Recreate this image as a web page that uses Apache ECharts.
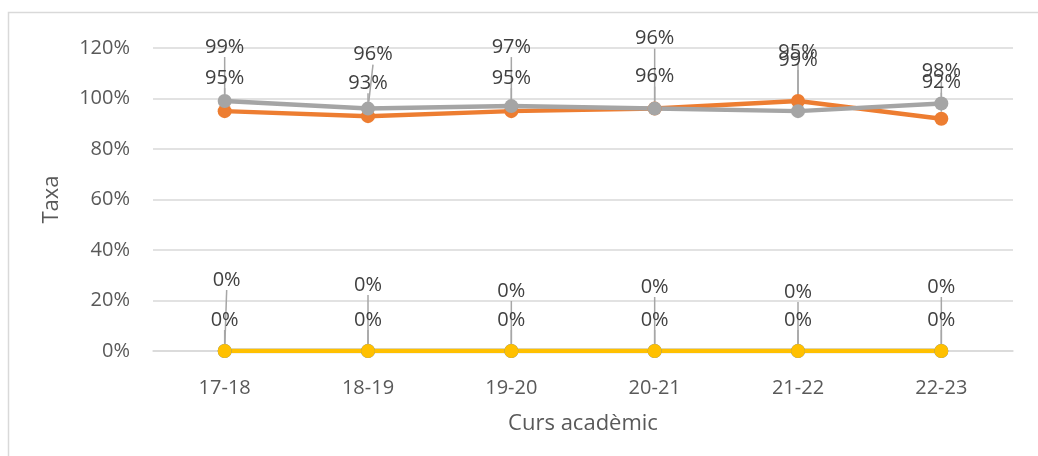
<!DOCTYPE html>
<html>
<head>
<meta charset="utf-8">
<script src="https://cdn.jsdelivr.net/npm/echarts@6/dist/echarts.min.js"></script>
<style>
html,body{margin:0;padding:0;background:#fff;}
#chart{width:1038px;height:456px;}
</style>
</head>
<body>
<div id="chart"></div>
<script>
// ---- data ----
const categories = ['17-18', '18-19', '19-20', '20-21', '21-22', '22-23'];
const seriesBlue = [0, 0, 0, 0, 0, 0];
const seriesOrange = [95, 93, 95, 96, 99, 92];
const seriesGray = [99, 96, 97, 96, 95, 98];
const seriesYellow = [0, 0, 0, 0, 0, 0];
const yTicks = [0, 20, 40, 60, 80, 100, 120];
const xTitle = 'Curs acadèmic';
const yTitle = 'Taxa';

// ---- label placement (vertical offsets in px, layout only) ----
const labelDy = {
  blue:   [-71, -66, -60, -64, -59, -64],
  orange: [-33, -33, -33, -32, -41, -36],
  gray:   [-54, -54, -59, -70, -59, -32],
  yellow: [-31, -31, -31, -31, -31, -31]
};
const labelDx = {
  blue:   [2, 0, 0, 0, 0, 0],
  orange: [0, 0, 0, 0, 0, 0],
  gray:   [0, 5, 0, 0, 0, 0],
  yellow: [0, 0, 0, 0, 0, 0]
};

const FONT = "'Open Sans', 'Noto Sans', sans-serif";

function mk(name, key, data, color) {
  return {
    name: name,
    type: 'line',
    data: data,
    symbol: 'circle',
    symbolSize: 14,
    lineStyle: { width: 4.5, color: color },
    itemStyle: { color: color },
    label: {
      show: true,
      position: 'inside',
      formatter: p => p.value + '%',
      color: '#404040',
      fontFamily: FONT,
      fontSize: 20
    },
    labelLine: { show: true, lineStyle: { color: '#a6a6a6', width: 1.5 } },
    labelLayout: function (p) {
      return { dx: labelDx[key][p.dataIndex], dy: labelDy[key][p.dataIndex] };
    },
    emphasis: { disabled: true },
    animation: false
  };
}

const chart = echarts.init(document.getElementById('chart'), null, { renderer: 'canvas' });
chart.setOption({
  backgroundColor: '#ffffff',
  animation: false,
  graphic: [{
    type: 'rect',
    shape: { x: 8.5, y: 12.5, width: 1040, height: 460 },
    style: { fill: 'none', stroke: '#d9d9d9', lineWidth: 1.5 },
    silent: true
  }],
  grid: { left: 153, right: 25, top: 48, bottom: 105, containLabel: false },
  xAxis: {
    type: 'category',
    data: categories,
    boundaryGap: true,
    axisLine: { show: true, lineStyle: { color: '#d9d9d9', width: 1.5 } },
    axisTick: { show: false },
    axisLabel: { color: '#595959', fontFamily: FONT, fontSize: 20, margin: 27 },
    name: xTitle,
    nameLocation: 'middle',
    nameGap: 62,
    nameTextStyle: { color: '#595959', fontFamily: FONT, fontSize: 22 }
  },
  yAxis: {
    type: 'value',
    min: yTicks[0],
    max: yTicks[yTicks.length - 1],
    interval: yTicks[1] - yTicks[0],
    axisLine: { show: false },
    axisTick: { show: false },
    splitLine: { lineStyle: { color: '#d9d9d9', width: 1.5 } },
    axisLabel: { color: '#595959', fontFamily: FONT, fontSize: 20, margin: 23, formatter: v => v + '%' },
    name: yTitle,
    nameLocation: 'middle',
    nameGap: 90,
    nameRotate: 90,
    nameTextStyle: { color: '#595959', fontFamily: FONT, fontSize: 22 }
  },
  series: [
    mk('S1', 'blue', seriesBlue, '#4472c4'),
    mk('S2', 'orange', seriesOrange, '#ed7d31'),
    mk('S3', 'gray', seriesGray, '#a5a5a5'),
    mk('S4', 'yellow', seriesYellow, '#ffc000')
  ]
});
</script>
</body>
</html>
